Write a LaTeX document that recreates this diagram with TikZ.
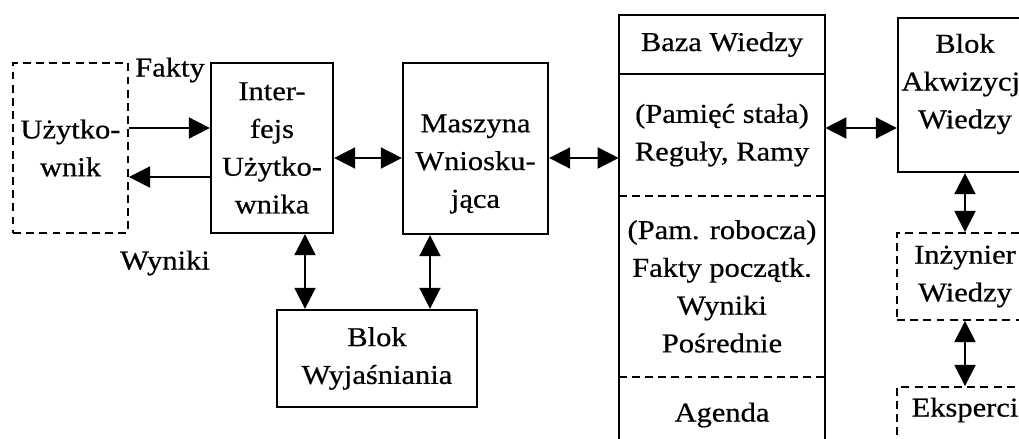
\documentclass[tikz,border=0pt]{standalone}
\usepackage{fontspec}
\setmainfont{Liberation Serif}[FakeStretch=1.12,FakeBold=0.6]
\usetikzlibrary{arrows.meta,positioning}

\begin{document}
\begin{tikzpicture}[x=0.02cm,y=-0.02cm,
        font=\fontsize{15.5}{21.5}\selectfont,
        box/.style={draw,line width=1.3pt,align=center,inner sep=0pt},
        dbox/.style={box,line width=1.1pt,dash pattern=on 4.5pt off 3pt},
        txt/.style={align=center,inner sep=0pt},
        sect/.style={align=center,inner sep=0pt,minimum width=4.12cm},
        dbl/.style={{Triangle[length=12pt,width=12pt]}-{Triangle[length=12pt,width=12pt]},line width=1pt},
        one/.style={-{Triangle[length=12pt,width=12pt]},line width=1pt}]
    \clip (0,0) rectangle (1019,439);
    % Left part
    \node[dbox,minimum width=2.3cm,minimum height=3.4cm] (user) at (70.5,148) {Użytko-\\wnik};
    \node[box,minimum width=2.44cm,minimum height=3.4cm] (intf) at (272,148) {Inter-\\fejs\\Użytko-\\wnika};
    \node[box,minimum width=2.9cm,minimum height=3.42cm] (masz) at (475.5,148.5) {};
    \node[txt] (masztxt) at (475.5,164) {Maszyna\\Wniosku-\\jąca};
    \node[box,minimum width=4cm,minimum height=1.94cm] (wyj) at (377,358.5) {Blok\\Wyjaśniania};
    \node[txt] (fakty) at (170,70) {Fakty};
    \node[txt] (wyniki) at (165,263) {Wyniki};
    % Knowledge base column
    \node[sect,minimum height=1.18cm] (head) at (722,44.5) {Baza Wiedzy};
    \node[sect,minimum height=2.42cm,below=0pt of head] (mem) {(Pamięć stała)\\Reguły, Ramy};
    \node[sect,minimum height=3.6cm,below=0pt of mem] (work) {(Pam. robocza)\\Fakty początk.\\Wyniki\\Pośrednie};
    \node[sect,minimum height=1.52cm,below=0pt of work] (agenda) {Agenda};
    \draw[line width=1.3pt] (head.north west) rectangle (agenda.south east);
    \draw[line width=1.3pt] (head.south west) -- (head.south east);
    \draw[line width=1.1pt,dash pattern=on 4.5pt off 3pt] (mem.south west) -- (mem.south east);
    \draw[line width=1.1pt,dash pattern=on 4.5pt off 3pt] (work.south west) -- (work.south east);
    % Right part
    \node[box,minimum width=2.68cm,minimum height=3.08cm] (akw) at (965,95) {};
    \node[txt] (akwtxt) at (965,84) {Blok\\Akwizycji\\Wiedzy};
    \node[dbox,minimum width=2.72cm,minimum height=1.74cm] (inz) at (965,276.5) {Inżynier\\Wiedzy};
    \node[dbox,minimum width=2.72cm,minimum height=1.66cm] (eksp) at (965,428.5) {};
    \node[txt] (eksptxt) at (965,410) {Eksperci};
    % Connectors
    \coordinate (yf) at (0,128);
    \coordinate (yw) at (0,177);
    \coordinate (ym) at (0,158);
    \coordinate (xa) at (305,0);
    \coordinate (xb) at (430,0);
    \draw[one] (user.east |- yf) -- (intf.west |- yf);
    \draw[one] (intf.west |- yw) -- (user.east |- yw);
    \draw[dbl] (intf.east |- ym) -- (masz.west |- ym);
    \draw[dbl] (masz.east |- ym) -- (mem.west |- ym);
    \draw[dbl] (mem.east |- yf) -- (akw.west |- yf);
    \draw[dbl] (intf.south -| xa) -- (wyj.north -| xa);
    \draw[dbl] (masz.south -| xb) -- (wyj.north -| xb);
    \draw[dbl] (akw.south) -- (inz.north);
    \draw[dbl] (inz.south) -- (eksp.north);
\end{tikzpicture}
\end{document}
